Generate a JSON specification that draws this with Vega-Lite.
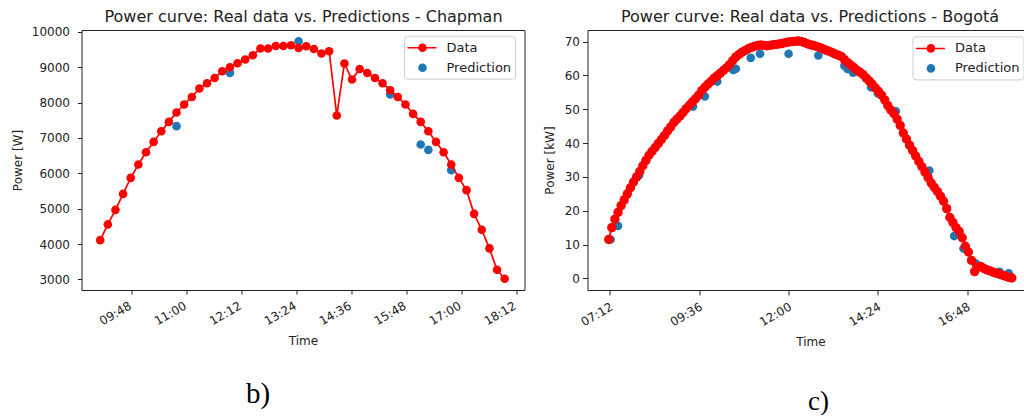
{
  "$schema": "https://vega.github.io/schema/vega-lite/v6.json",
  "background": "white",
  "autosize": {"type": "pad"},
  "padding": {"left": 10.5, "top": 7, "right": 0, "bottom": 0},
  "config": {
    "font": "DejaVu Sans",
    "view": {"stroke": null},
    "axis": {"grid": false, "labelFont": "DejaVu Sans", "titleFont": "DejaVu Sans", "labelColor": "#222", "titleColor": "#222", "tickColor": "#222", "domainColor": "#222", "labelFontSize": 12, "titleFontSize": 12, "titleFontWeight": "normal", "tickWidth": 1, "domainWidth": 1}
  },
  "datasets": {
    "chapman": [
      {"time": "2020-01-01T09:07", "power": 4110}, {"time": "2020-01-01T09:17", "power": 4554}, {"time": "2020-01-01T09:27", "power": 4966}, {"time": "2020-01-01T09:37", "power": 5418}, {"time": "2020-01-01T09:47", "power": 5870}, {"time": "2020-01-01T09:57", "power": 6249}, {"time": "2020-01-01T10:07", "power": 6596}, {"time": "2020-01-01T10:17", "power": 6887}, {"time": "2020-01-01T10:27", "power": 7189}, {"time": "2020-01-01T10:37", "power": 7452}, {"time": "2020-01-01T10:47", "power": 7718}, {"time": "2020-01-01T10:57", "power": 7944}, {"time": "2020-01-01T11:07", "power": 8158}, {"time": "2020-01-01T11:17", "power": 8395}, {"time": "2020-01-01T11:27", "power": 8545}, {"time": "2020-01-01T11:37", "power": 8695}, {"time": "2020-01-01T11:47", "power": 8884}, {"time": "2020-01-01T11:57", "power": 8997}, {"time": "2020-01-01T12:07", "power": 9110}, {"time": "2020-01-01T12:17", "power": 9215}, {"time": "2020-01-01T12:27", "power": 9336}, {"time": "2020-01-01T12:37", "power": 9525}, {"time": "2020-01-01T12:47", "power": 9525}, {"time": "2020-01-01T12:57", "power": 9599}, {"time": "2020-01-01T13:07", "power": 9599}, {"time": "2020-01-01T13:17", "power": 9619}, {"time": "2020-01-01T13:27", "power": 9543}, {"time": "2020-01-01T13:37", "power": 9591}, {"time": "2020-01-01T13:47", "power": 9514}, {"time": "2020-01-01T13:57", "power": 9384}, {"time": "2020-01-01T14:07", "power": 9449}, {"time": "2020-01-01T14:17", "power": 7633}, {"time": "2020-01-01T14:27", "power": 9102}, {"time": "2020-01-01T14:37", "power": 8650}, {"time": "2020-01-01T14:47", "power": 8949}, {"time": "2020-01-01T14:57", "power": 8836}, {"time": "2020-01-01T15:07", "power": 8695}, {"time": "2020-01-01T15:17", "power": 8545}, {"time": "2020-01-01T15:27", "power": 8347}, {"time": "2020-01-01T15:37", "power": 8158}, {"time": "2020-01-01T15:47", "power": 7944}, {"time": "2020-01-01T15:57", "power": 7678}, {"time": "2020-01-01T16:07", "power": 7452}, {"time": "2020-01-01T16:17", "power": 7189}, {"time": "2020-01-01T16:27", "power": 6887}, {"time": "2020-01-01T16:37", "power": 6596}, {"time": "2020-01-01T16:47", "power": 6249}, {"time": "2020-01-01T16:57", "power": 5870}, {"time": "2020-01-01T17:07", "power": 5523}, {"time": "2020-01-01T17:17", "power": 4853}, {"time": "2020-01-01T17:27", "power": 4401}, {"time": "2020-01-01T17:37", "power": 3876}, {"time": "2020-01-01T17:47", "power": 3271}, {"time": "2020-01-01T17:57", "power": 3017}
    ],
    "chapman_pred": [
      {"time": "2020-01-01T10:47", "power": 7331, "series": "Prediction"}, {"time": "2020-01-01T11:57", "power": 8836, "series": "Prediction"}, {"time": "2020-01-01T13:27", "power": 9732, "series": "Prediction"}, {"time": "2020-01-01T15:27", "power": 8226, "series": "Prediction"}, {"time": "2020-01-01T16:07", "power": 6814, "series": "Prediction"}, {"time": "2020-01-01T16:17", "power": 6661, "series": "Prediction"}, {"time": "2020-01-01T16:47", "power": 6088, "series": "Prediction"}
    ],
    "bogota": [
      {"time": "2020-01-01T07:10", "power": 11.5}, {"time": "2020-01-01T07:15", "power": 15.0}, {"time": "2020-01-01T07:20", "power": 17.5}, {"time": "2020-01-01T07:25", "power": 19.5}, {"time": "2020-01-01T07:30", "power": 21.5}, {"time": "2020-01-01T07:35", "power": 23.2}, {"time": "2020-01-01T07:40", "power": 25.0}, {"time": "2020-01-01T07:45", "power": 26.8}, {"time": "2020-01-01T07:50", "power": 28.5}, {"time": "2020-01-01T07:55", "power": 30.0},
      {"time": "2020-01-01T08:00", "power": 31.6}, {"time": "2020-01-01T08:05", "power": 33.3}, {"time": "2020-01-01T08:10", "power": 34.9}, {"time": "2020-01-01T08:15", "power": 36.4}, {"time": "2020-01-01T08:20", "power": 37.6}, {"time": "2020-01-01T08:25", "power": 38.7}, {"time": "2020-01-01T08:30", "power": 39.9}, {"time": "2020-01-01T08:35", "power": 41.1}, {"time": "2020-01-01T08:40", "power": 42.3}, {"time": "2020-01-01T08:45", "power": 43.6}, {"time": "2020-01-01T08:50", "power": 44.8}, {"time": "2020-01-01T08:55", "power": 46.1},
      {"time": "2020-01-01T09:00", "power": 47.1}, {"time": "2020-01-01T09:05", "power": 48.0}, {"time": "2020-01-01T09:10", "power": 49.1}, {"time": "2020-01-01T09:15", "power": 50.2}, {"time": "2020-01-01T09:20", "power": 51.2}, {"time": "2020-01-01T09:25", "power": 52.2}, {"time": "2020-01-01T09:30", "power": 53.1}, {"time": "2020-01-01T09:35", "power": 54.2}, {"time": "2020-01-01T09:40", "power": 55.5}, {"time": "2020-01-01T09:45", "power": 56.5}, {"time": "2020-01-01T09:50", "power": 57.4}, {"time": "2020-01-01T09:55", "power": 58.3},
      {"time": "2020-01-01T10:00", "power": 59.2}, {"time": "2020-01-01T10:05", "power": 59.9}, {"time": "2020-01-01T10:10", "power": 60.7}, {"time": "2020-01-01T10:15", "power": 61.5}, {"time": "2020-01-01T10:20", "power": 62.3}, {"time": "2020-01-01T10:25", "power": 63.2}, {"time": "2020-01-01T10:30", "power": 64.4}, {"time": "2020-01-01T10:35", "power": 65.5}, {"time": "2020-01-01T10:40", "power": 66.2}, {"time": "2020-01-01T10:45", "power": 66.9}, {"time": "2020-01-01T10:50", "power": 67.4}, {"time": "2020-01-01T10:55", "power": 67.9},
      {"time": "2020-01-01T11:00", "power": 68.3}, {"time": "2020-01-01T11:05", "power": 68.6}, {"time": "2020-01-01T11:10", "power": 68.9}, {"time": "2020-01-01T11:15", "power": 69.0}, {"time": "2020-01-01T11:20", "power": 68.9}, {"time": "2020-01-01T11:25", "power": 68.8}, {"time": "2020-01-01T11:30", "power": 68.9}, {"time": "2020-01-01T11:35", "power": 69.1}, {"time": "2020-01-01T11:40", "power": 69.2}, {"time": "2020-01-01T11:45", "power": 69.3}, {"time": "2020-01-01T11:50", "power": 69.5}, {"time": "2020-01-01T11:55", "power": 69.7},
      {"time": "2020-01-01T12:00", "power": 69.9}, {"time": "2020-01-01T12:05", "power": 70.0}, {"time": "2020-01-01T12:10", "power": 70.1}, {"time": "2020-01-01T12:15", "power": 70.2}, {"time": "2020-01-01T12:20", "power": 70.1}, {"time": "2020-01-01T12:25", "power": 69.8}, {"time": "2020-01-01T12:30", "power": 69.4}, {"time": "2020-01-01T12:35", "power": 69.1}, {"time": "2020-01-01T12:40", "power": 68.9}, {"time": "2020-01-01T12:45", "power": 68.6}, {"time": "2020-01-01T12:50", "power": 68.3}, {"time": "2020-01-01T12:55", "power": 67.9},
      {"time": "2020-01-01T13:00", "power": 67.5}, {"time": "2020-01-01T13:05", "power": 67.2}, {"time": "2020-01-01T13:10", "power": 66.8}, {"time": "2020-01-01T13:15", "power": 66.4}, {"time": "2020-01-01T13:20", "power": 66.0}, {"time": "2020-01-01T13:25", "power": 65.6}, {"time": "2020-01-01T13:30", "power": 64.7}, {"time": "2020-01-01T13:35", "power": 63.8}, {"time": "2020-01-01T13:40", "power": 63.1}, {"time": "2020-01-01T13:45", "power": 62.4}, {"time": "2020-01-01T13:50", "power": 61.6}, {"time": "2020-01-01T13:55", "power": 61.0},
      {"time": "2020-01-01T14:00", "power": 60.3}, {"time": "2020-01-01T14:05", "power": 59.3}, {"time": "2020-01-01T14:10", "power": 58.4}, {"time": "2020-01-01T14:15", "power": 57.4}, {"time": "2020-01-01T14:20", "power": 56.3}, {"time": "2020-01-01T14:25", "power": 55.3}, {"time": "2020-01-01T14:30", "power": 54.2}, {"time": "2020-01-01T14:35", "power": 52.8}, {"time": "2020-01-01T14:40", "power": 51.1}, {"time": "2020-01-01T14:45", "power": 49.8}, {"time": "2020-01-01T14:50", "power": 48.7}, {"time": "2020-01-01T14:55", "power": 47.1},
      {"time": "2020-01-01T15:00", "power": 45.2}, {"time": "2020-01-01T15:05", "power": 43.0}, {"time": "2020-01-01T15:10", "power": 41.2}, {"time": "2020-01-01T15:15", "power": 39.4}, {"time": "2020-01-01T15:20", "power": 37.8}, {"time": "2020-01-01T15:25", "power": 36.2}, {"time": "2020-01-01T15:30", "power": 34.6}, {"time": "2020-01-01T15:35", "power": 33.0}, {"time": "2020-01-01T15:40", "power": 31.4}, {"time": "2020-01-01T15:45", "power": 29.8}, {"time": "2020-01-01T15:50", "power": 28.2}, {"time": "2020-01-01T15:55", "power": 26.9},
      {"time": "2020-01-01T16:00", "power": 25.7}, {"time": "2020-01-01T16:05", "power": 24.3}, {"time": "2020-01-01T16:10", "power": 22.8}, {"time": "2020-01-01T16:15", "power": 20.6}, {"time": "2020-01-01T16:20", "power": 18.0}, {"time": "2020-01-01T16:25", "power": 16.5}, {"time": "2020-01-01T16:30", "power": 15.0}, {"time": "2020-01-01T16:35", "power": 13.9}, {"time": "2020-01-01T16:40", "power": 12.0}, {"time": "2020-01-01T16:45", "power": 9.5}, {"time": "2020-01-01T16:50", "power": 7.8}, {"time": "2020-01-01T16:55", "power": 5.3},
      {"time": "2020-01-01T17:00", "power": 2.0}, {"time": "2020-01-01T17:05", "power": 3.3}, {"time": "2020-01-01T17:10", "power": 3.5}, {"time": "2020-01-01T17:15", "power": 2.9}, {"time": "2020-01-01T17:20", "power": 2.5}, {"time": "2020-01-01T17:25", "power": 2.2}, {"time": "2020-01-01T17:30", "power": 1.8}, {"time": "2020-01-01T17:35", "power": 1.5}, {"time": "2020-01-01T17:40", "power": 1.2}, {"time": "2020-01-01T17:45", "power": 0.9}, {"time": "2020-01-01T17:50", "power": 0.6}, {"time": "2020-01-01T17:55", "power": 0.3}, {"time": "2020-01-01T18:00", "power": 0.1}
    ],
    "bogota_pred": [
      {"time": "2020-01-01T07:13", "power": 11.5, "series": "Prediction"}, {"time": "2020-01-01T07:25", "power": 15.5, "series": "Prediction"}, {"time": "2020-01-01T07:59", "power": 30.5, "series": "Prediction"}, {"time": "2020-01-01T09:26", "power": 50.8, "series": "Prediction"}, {"time": "2020-01-01T09:45", "power": 53.8, "series": "Prediction"}, {"time": "2020-01-01T10:05", "power": 58.2, "series": "Prediction"}, {"time": "2020-01-01T10:31", "power": 61.6, "series": "Prediction"}, {"time": "2020-01-01T10:35", "power": 62.0, "series": "Prediction"}, {"time": "2020-01-01T10:59", "power": 65.2, "series": "Prediction"}, {"time": "2020-01-01T11:14", "power": 66.4, "series": "Prediction"}, {"time": "2020-01-01T12:00", "power": 66.4, "series": "Prediction"}, {"time": "2020-01-01T12:48", "power": 65.9, "series": "Prediction"}, {"time": "2020-01-01T13:30", "power": 62.9, "series": "Prediction"}, {"time": "2020-01-01T13:35", "power": 61.9, "series": "Prediction"}, {"time": "2020-01-01T13:44", "power": 60.8, "series": "Prediction"}, {"time": "2020-01-01T14:13", "power": 56.5, "series": "Prediction"}, {"time": "2020-01-01T14:24", "power": 54.7, "series": "Prediction"}, {"time": "2020-01-01T14:53", "power": 49.4, "series": "Prediction"}, {"time": "2020-01-01T15:47", "power": 31.9, "series": "Prediction"}, {"time": "2020-01-01T16:27", "power": 12.5, "series": "Prediction"}, {"time": "2020-01-01T16:42", "power": 8.8, "series": "Prediction"}, {"time": "2020-01-01T17:02", "power": 4.4, "series": "Prediction"}, {"time": "2020-01-01T17:40", "power": 1.9, "series": "Prediction"}, {"time": "2020-01-01T17:55", "power": 1.5, "series": "Prediction"}
    ]
  },
  "bounds": "flush",
  "spacing": 63,
  "resolve": {"scale": {"color": "independent", "shape": "independent"}, "legend": {"color": "independent", "shape": "independent"}},
  "hconcat": [
    {
      "width": 443,
      "height": 260,
      "view": {"stroke": "#222", "strokeWidth": 1},
      "title": {"text": "b)", "orient": "bottom", "anchor": "middle", "font": "Liberation Serif", "fontSize": 29, "fontWeight": "normal", "color": "#000", "baseline": "alphabetic", "offset": 56, "dx": -45},
      "resolve": {"axis": {"x": "independent"}},
      "layer": [
        {
          "data": {"name": "chapman_pred"},
          "mark": {"type": "point", "filled": true, "size": 256, "opacity": 1, "xOffset": -6.4},
          "encoding": {
            "x": {"field": "time", "type": "temporal", "scale": {"domain": [{"year": 2020, "month": 1, "date": 1, "hours": 8, "minutes": 42, "seconds": 30}, {"year": 2020, "month": 1, "date": 1, "hours": 18, "minutes": 23}]}, "axis": {"orient": "top", "title": "Power curve: Real data vs. Predictions - Chapman", "labels": false, "ticks": false, "domain": false, "titleFontSize": 16, "titlePadding": 9, "titleBaseline": "alphabetic"}},
            "y": {"field": "power", "type": "quantitative", "scale": {"domain": [2700, 10050], "nice": false, "zero": false}, "axis": {"title": "Power [W]", "values": [3000, 4000, 5000, 6000, 7000, 8000, 9000, 10000], "format": "d", "tickSize": 4, "labelPadding": 8, "domain": false, "titlePadding": 7}},
            "color": {"field": "series", "type": "nominal", "scale": {"domain": ["Data", "Prediction"], "range": ["#ff0000", "#1f77b4"]},
              "legend": {"orient": "none", "legendX": 322.6, "legendY": 5.7, "title": null, "padding": 4, "strokeColor": "#cccccc", "fillColor": "#ffffff", "cornerRadius": 3, "symbolSize": 256, "symbolStrokeWidth": 0, "symbolOpacity": 1, "labelFont": "DejaVu Sans", "labelFontSize": 13, "labelColor": "#222", "labelOffset": 22.4, "rowPadding": 5}},
            "shape": {"field": "series", "type": "nominal", "scale": {"domain": ["Data", "Prediction"], "range": ["M-1.075,-0.094L2.55,-0.094L2.55,0.094L-1.075,0.094Z M1.34,0A0.54,0.54 0 1,1 0.26,0A0.54,0.54 0 1,1 1.34,0Z", "M1.34,0A0.54,0.54 0 1,1 0.26,0A0.54,0.54 0 1,1 1.34,0Z"]},
              "legend": {"orient": "none", "legendX": 322.6, "legendY": 5.7, "title": null, "padding": 4, "strokeColor": "#cccccc", "fillColor": "#ffffff", "cornerRadius": 3, "symbolSize": 256, "symbolStrokeWidth": 0, "symbolOpacity": 1, "labelFont": "DejaVu Sans", "labelFontSize": 13, "labelColor": "#222", "labelOffset": 22.4, "rowPadding": 5}}
          }
        },
        {
          "data": {"name": "chapman"},
          "mark": {"type": "line", "color": "#ff0000", "strokeWidth": 1.7},
          "encoding": {
            "x": {"field": "time", "type": "temporal", "scale": {"domain": [{"year": 2020, "month": 1, "date": 1, "hours": 8, "minutes": 42, "seconds": 30}, {"year": 2020, "month": 1, "date": 1, "hours": 18, "minutes": 23}]}, "axis": {"orient": "bottom", "title": "Time", "format": "%H:%M", "values": [{"year": 2020, "month": 1, "date": 1, "hours": 9, "minutes": 48}, {"year": 2020, "month": 1, "date": 1, "hours": 11, "minutes": 0}, {"year": 2020, "month": 1, "date": 1, "hours": 12, "minutes": 12}, {"year": 2020, "month": 1, "date": 1, "hours": 13, "minutes": 24}, {"year": 2020, "month": 1, "date": 1, "hours": 14, "minutes": 36}, {"year": 2020, "month": 1, "date": 1, "hours": 15, "minutes": 48}, {"year": 2020, "month": 1, "date": 1, "hours": 17, "minutes": 0}, {"year": 2020, "month": 1, "date": 1, "hours": 18, "minutes": 12}], "labelAngle": -30, "labelAlign": "right", "labelBaseline": "top", "labelOffset": -4, "labelPadding": 6, "tickSize": 4, "domain": false, "titlePadding": 9, "labelOverlap": false}},
            "y": {"field": "power", "type": "quantitative", "scale": {"domain": [2700, 10050], "nice": false, "zero": false}, "axis": {"title": "Power [W]", "values": [3000, 4000, 5000, 6000, 7000, 8000, 9000, 10000], "format": "d", "tickSize": 4, "labelPadding": 8, "domain": false, "titlePadding": 7}}
          }
        },
        {
          "data": {"name": "chapman"},
          "mark": {"type": "point", "filled": true, "size": 74, "opacity": 1, "color": "#ff0000"},
          "encoding": {
            "x": {"field": "time", "type": "temporal", "scale": {"domain": [{"year": 2020, "month": 1, "date": 1, "hours": 8, "minutes": 42, "seconds": 30}, {"year": 2020, "month": 1, "date": 1, "hours": 18, "minutes": 23}]}, "axis": null},
            "y": {"field": "power", "type": "quantitative", "scale": {"domain": [2700, 10050], "nice": false, "zero": false}, "axis": {"title": "Power [W]", "values": [3000, 4000, 5000, 6000, 7000, 8000, 9000, 10000], "format": "d", "tickSize": 4, "labelPadding": 8, "domain": false, "titlePadding": 7}}
          }
        }
      ]
    },
    {
      "width": 436,
      "height": 260,
      "view": {"stroke": null},
      "title": {"text": "c)", "orient": "bottom", "anchor": "middle", "font": "Liberation Serif", "fontSize": 27, "fontWeight": "normal", "color": "#000", "baseline": "alphabetic", "offset": 62, "dx": 13},
      "resolve": {"axis": {"x": "independent"}},
      "layer": [
        {
          "data": {"name": "bogota_pred"},
          "mark": {"type": "point", "filled": true, "size": 256, "opacity": 1, "xOffset": -6.4},
          "encoding": {
            "x": {"field": "time", "type": "temporal", "scale": {"domain": [{"year": 2020, "month": 1, "date": 1, "hours": 6, "minutes": 35, "seconds": 48}, {"year": 2020, "month": 1, "date": 1, "hours": 18, "minutes": 18, "seconds": 48}]}, "axis": {"orient": "top", "title": "Power curve: Real data vs. Predictions - Bogotá", "labels": false, "ticks": false, "domain": true, "titleFontSize": 16, "titlePadding": 9, "titleBaseline": "alphabetic", "titleX": 222}},
            "y": {"field": "power", "type": "quantitative", "scale": {"domain": [-3.45, 73.45], "nice": false, "zero": false}, "axis": {"title": "Power [kW]", "values": [0, 10, 20, 30, 40, 50, 60, 70], "tickSize": 5, "labelPadding": 3, "domain": true, "titlePadding": 8}},
            "color": {"field": "series", "type": "nominal", "scale": {"domain": ["Data", "Prediction"], "range": ["#ff0000", "#1f77b4"]},
              "legend": {"orient": "none", "legendX": 325, "legendY": 6.4, "title": null, "padding": 4, "strokeColor": "#cccccc", "fillColor": "#ffffff", "cornerRadius": 3, "symbolSize": 256, "symbolStrokeWidth": 0, "symbolOpacity": 1, "labelFont": "DejaVu Sans", "labelFontSize": 13, "labelColor": "#222", "labelOffset": 22.4, "rowPadding": 5}},
            "shape": {"field": "series", "type": "nominal", "scale": {"domain": ["Data", "Prediction"], "range": ["M-1.075,-0.094L2.55,-0.094L2.55,0.094L-1.075,0.094Z M1.34,0A0.54,0.54 0 1,1 0.26,0A0.54,0.54 0 1,1 1.34,0Z", "M1.34,0A0.54,0.54 0 1,1 0.26,0A0.54,0.54 0 1,1 1.34,0Z"]},
              "legend": {"orient": "none", "legendX": 325, "legendY": 6.4, "title": null, "padding": 4, "strokeColor": "#cccccc", "fillColor": "#ffffff", "cornerRadius": 3, "symbolSize": 256, "symbolStrokeWidth": 0, "symbolOpacity": 1, "labelFont": "DejaVu Sans", "labelFontSize": 13, "labelColor": "#222", "labelOffset": 22.4, "rowPadding": 5}}
          }
        },
        {
          "data": {"name": "bogota"},
          "mark": {"type": "line", "color": "#ff0000", "strokeWidth": 1.8},
          "encoding": {
            "x": {"field": "time", "type": "temporal", "scale": {"domain": [{"year": 2020, "month": 1, "date": 1, "hours": 6, "minutes": 35, "seconds": 48}, {"year": 2020, "month": 1, "date": 1, "hours": 18, "minutes": 18, "seconds": 48}]}, "axis": {"orient": "bottom", "title": "Time", "format": "%H:%M", "values": [{"year": 2020, "month": 1, "date": 1, "hours": 7, "minutes": 12}, {"year": 2020, "month": 1, "date": 1, "hours": 9, "minutes": 36}, {"year": 2020, "month": 1, "date": 1, "hours": 12, "minutes": 0}, {"year": 2020, "month": 1, "date": 1, "hours": 14, "minutes": 24}, {"year": 2020, "month": 1, "date": 1, "hours": 16, "minutes": 48}], "labelAngle": -30, "labelAlign": "right", "labelBaseline": "top", "labelOffset": -1, "labelPadding": 6, "tickSize": 5, "domain": true, "titlePadding": 9, "titleX": 223, "labelOverlap": false}},
            "y": {"field": "power", "type": "quantitative", "scale": {"domain": [-3.45, 73.45], "nice": false, "zero": false}, "axis": {"title": "Power [kW]", "values": [0, 10, 20, 30, 40, 50, 60, 70], "tickSize": 5, "labelPadding": 3, "domain": true, "titlePadding": 8}}
          }
        },
        {
          "data": {"name": "bogota"},
          "mark": {"type": "point", "filled": true, "size": 88, "opacity": 1, "color": "#ff0000"},
          "encoding": {
            "x": {"field": "time", "type": "temporal", "scale": {"domain": [{"year": 2020, "month": 1, "date": 1, "hours": 6, "minutes": 35, "seconds": 48}, {"year": 2020, "month": 1, "date": 1, "hours": 18, "minutes": 18, "seconds": 48}]}, "axis": null},
            "y": {"field": "power", "type": "quantitative", "scale": {"domain": [-3.45, 73.45], "nice": false, "zero": false}, "axis": {"title": "Power [kW]", "values": [0, 10, 20, 30, 40, 50, 60, 70], "tickSize": 5, "labelPadding": 3, "domain": true, "titlePadding": 8}}
          }
        }
      ]
    }
  ]
}
